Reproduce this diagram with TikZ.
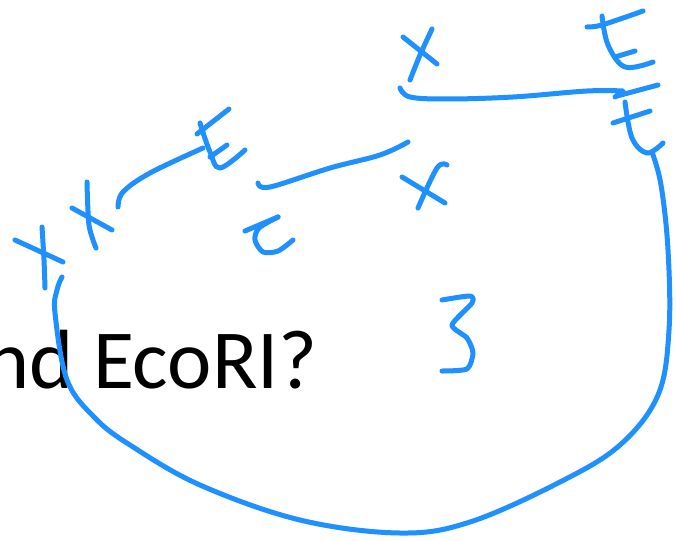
\documentclass[tikz,border=0pt]{standalone}
\usepackage{fontspec}
\setmainfont{Carlito}
\definecolor{inkblue}{RGB}{30,144,255}
\begin{document}
\begin{tikzpicture}[x=1pt,y=-1pt,
  ink/.style={draw=inkblue,line width=5pt,line cap=round,line join=round}]
\useasboundingbox[fill=white] (0,0) rectangle (676,540);
\begin{scope}
\clip (0,0) rectangle (676,540);
\node[anchor=base east,inner sep=0pt,font=\fontsize{84}{92}\selectfont] (q) at (318,388) {nd EcoRI?};
\end{scope}
% top x
\draw[ink] (403,37) -- (437,64);
\draw[ink] plot[smooth,tension=0.5] coordinates {(432,29) (420,55) (410,80)};
% top line
\draw[ink] plot[smooth,tension=0.6] coordinates {(400,88) (410,97) (447,99) (513,97) (587,91) (623,91)} -- (615,97);
% top E
\draw[ink] plot[smooth,tension=0.5] coordinates {(587,27) (602,25) (643,11)};
\draw[ink] plot[smooth,tension=0.6] coordinates {(602,16) (608,45) (625,67) (653,62)};
\draw[ink] (615,57) -- (635,51);
% lower t
\draw[ink] (617,96) -- (658,85);
\draw[ink] (613,123) -- (650,111);
\draw[ink] plot[smooth,tension=0.6] coordinates {(625,102) (632,138) (647,153) (663,143)};
% big loop
\draw[ink] plot[smooth,tension=0.6] coordinates {(652,152) (661,185) (668,250) (669,330) (658,395) (620,445) (560,482) (470,522) (400,533) (300,520) (200,485) (130,445) (95,418) (67,380) (55,313) (57,290) (62,277)};
% left x 1
\draw[ink] (15,240) -- (63,262);
\draw[ink] plot[smooth,tension=0.5] coordinates {(42,227) (44,260) (45,288)};
% left x 2
\draw[ink] (72,208) -- (112,230);
\draw[ink] plot[smooth,tension=0.5] coordinates {(87,182) (89,225) (96,248)};
% arc to E
\draw[ink] plot[smooth,tension=0.6] coordinates {(118,207) (123,192) (150,173) (203,148)};
% left E
\draw[ink] (197,134) -- (229,109);
\draw[ink] plot[smooth,tension=0.6] coordinates {(200,123) (210,152) (220,168) (245,150)};
\draw[ink] (210,157) -- (227,145);
% middle line
\draw[ink] plot[smooth,tension=0.6] coordinates {(258,183) (270,187) (330,168) (380,155) (408,142)};
% e
\draw[ink] (245,231) -- (278,217);
\draw[ink] plot[smooth,tension=0.5] coordinates {(278,217) (259,228) (255,240) (263,252) (278,251) (293,240)};
% right x
\draw[ink] (402,177) -- (445,203);
\draw[ink] plot[smooth,tension=0.6] coordinates {(447,165) (437,168) (418,208)};
% 3
\draw[ink] plot[smooth,tension=0.4] coordinates {(442,300) (470,296) (472,303) (452,325) (467,338) (473,353) (467,369) (442,371)};
\end{tikzpicture}
\end{document}
